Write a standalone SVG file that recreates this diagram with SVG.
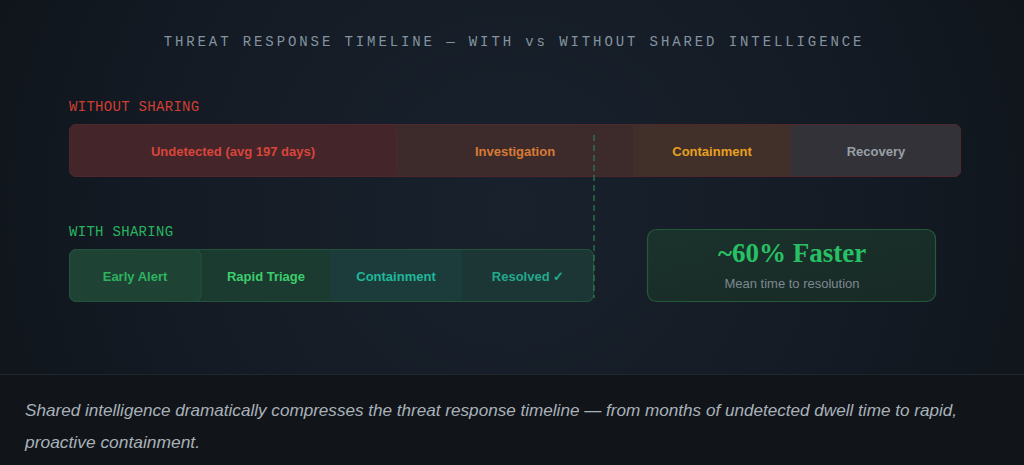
<svg xmlns="http://www.w3.org/2000/svg" width="1024" height="465" viewBox="0 0 1024 465">
<defs>
<radialGradient id="bg" cx="512" cy="210" r="560" gradientUnits="userSpaceOnUse">
<stop offset="0" stop-color="#19212c"/>
<stop offset="0.6" stop-color="#141b25"/>
<stop offset="1" stop-color="#10151b"/>
</radialGradient>
<linearGradient id="res" x1="0" y1="0" x2="1" y2="1">
<stop offset="0" stop-color="#1b322c"/>
<stop offset="1" stop-color="#182a26"/>
</linearGradient>
<clipPath id="clipTop"><rect x="69" y="124" width="892" height="53" rx="7"/></clipPath>
<clipPath id="clipBot"><rect x="69" y="249" width="525" height="53" rx="7"/></clipPath>
</defs>
<style>
.title{font-family:"Liberation Mono","DejaVu Sans Mono",monospace;font-size:14px;letter-spacing:2.9px;fill:#8394a0}
.lbl{font-family:"Liberation Mono","DejaVu Sans Mono",monospace;font-size:14px;letter-spacing:0.3px}
.seg{font-family:"Liberation Sans",Arial,sans-serif;font-size:13px;font-weight:bold;text-anchor:middle}
.cap{font-family:"Liberation Sans",Arial,sans-serif;font-size:17px;font-style:italic;fill:#a9b1b9}
</style>
<rect x="0" y="0" width="1024" height="374" fill="url(#bg)"/>
<rect x="0" y="374" width="1024" height="91" fill="#11151a"/>
<line x1="0" y1="374.5" x2="1024" y2="374.5" stroke="#1f262d" stroke-width="1"/>

<text class="title" x="514" y="46" text-anchor="middle">THREAT RESPONSE TIMELINE — WITH vs WITHOUT SHARED INTELLIGENCE</text>

<text class="lbl" x="69" y="111" fill="#cf3e32">WITHOUT SHARING</text>
<text class="lbl" x="69" y="236" fill="#27b460">WITH SHARING</text>

<g id="without-bar">
<g clip-path="url(#clipTop)">
<rect x="69" y="124" width="892" height="53" fill="#3d2b2b"/>
<rect id="seg-investigation" x="397" y="124" width="236" height="53" fill="#3d2b2b"/>
<rect id="seg-containment-top" x="633" y="124" width="158" height="53" fill="#41302a"/>
<rect id="seg-recovery" x="791" y="124" width="170" height="53" fill="#333239"/>
</g>
<rect x="69.5" y="124.5" width="891" height="52" rx="7" fill="none" stroke="#4e282d" stroke-width="1"/>
<rect id="seg-undetected" x="69.5" y="124.5" width="327.5" height="52" rx="7" fill="#44252a" stroke="#4e282d" stroke-width="1"/>
<text class="seg" x="233" y="156" fill="#d9453a">Undetected (avg 197 days)</text>
<text class="seg" x="515" y="156" fill="#d97a35">Investigation</text>
<text class="seg" x="712" y="156" fill="#e8a020">Containment</text>
<text class="seg" x="876" y="156" fill="#97a0a6">Recovery</text>
</g>

<g id="with-bar">
<g clip-path="url(#clipBot)">
<rect x="69" y="249" width="525" height="53" fill="#1b3b30"/>
<rect id="seg-rapid" x="201" y="249" width="129" height="53" fill="#1b3b30"/>
<rect id="seg-containment-bot" x="330" y="249" width="132" height="53" fill="#1b3c3a"/>
<rect id="seg-resolved" x="462" y="249" width="132" height="53" fill="#1c3636"/>
</g>
<rect x="69.5" y="249.5" width="524" height="52" rx="7" fill="none" stroke="#24533b" stroke-width="1"/>
<rect id="seg-early" x="69.5" y="249.5" width="131.5" height="52" rx="7" fill="#1e4234" stroke="#23533a" stroke-width="1"/>
<text class="seg" x="135" y="281" fill="#2eb35f">Early Alert</text>
<text class="seg" x="266" y="281" fill="#3ccd6c">Rapid Triage</text>
<text class="seg" x="396" y="281" fill="#1fb89a">Containment</text>
<text class="seg" x="528" y="281" fill="#23a88c">Resolved ✓</text>
</g>

<g id="result">
<rect x="647.5" y="229.5" width="288" height="72" rx="9" fill="url(#res)" stroke="#245a3c" stroke-width="1.2"/>
<text x="792" y="262" text-anchor="middle" font-family="'Liberation Serif','DejaVu Serif',serif" font-weight="bold" font-size="27" fill="#27c064">~60% Faster</text>
<text x="792" y="288" text-anchor="middle" font-family="'Liberation Sans',Arial,sans-serif" font-size="13" fill="#7d8890">Mean time to resolution</text>
</g>

<g id="connectors">
<line x1="594" y1="135" x2="594" y2="298" stroke="#2f7a4f" stroke-width="1.3" stroke-dasharray="6 4"/>
</g>

<text class="cap" x="25" y="416" textLength="932" lengthAdjust="spacingAndGlyphs">Shared intelligence dramatically compresses the threat response timeline — from months of undetected dwell time to rapid,</text>
<text class="cap" x="25" y="448" textLength="175" lengthAdjust="spacingAndGlyphs">proactive containment.</text>
</svg>
